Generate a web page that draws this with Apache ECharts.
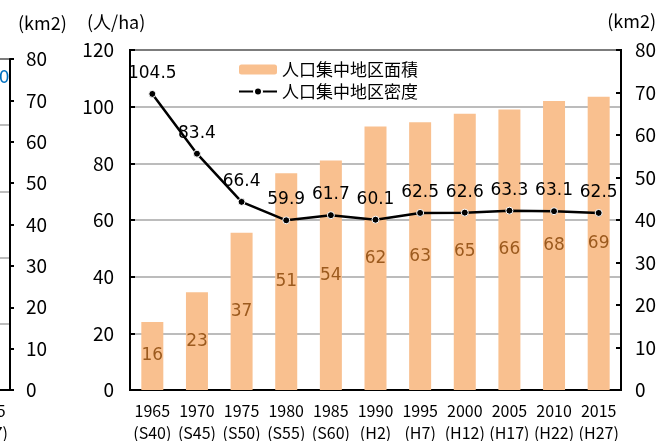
<!DOCTYPE html>
<html>
<head>
<meta charset="utf-8">
<script src="https://cdn.jsdelivr.net/npm/echarts@6/dist/echarts.min.js"></script>
<style>
  html, body { margin: 0; padding: 0; background: #fff; }
  #chart { width: 662px; height: 441px; }
</style>
</head>
<body>
<div id="chart"></div>
<script>
// Census years and their Japanese era equivalents
const years = ['1965', '1970', '1975', '1980', '1985', '1990', '1995', '2000', '2005', '2010', '2015'];
const eras = ['(S40)', '(S45)', '(S50)', '(S55)', '(S60)', '(H2)', '(H7)', '(H12)', '(H17)', '(H22)', '(H27)'];

// DID area (km2) and DID population density (persons/ha)
const didArea = [16, 23, 37, 51, 54, 62, 63, 65, 66, 68, 69];
const didDensity = [104.5, 83.4, 66.4, 59.9, 61.7, 60.1, 62.5, 62.6, 63.3, 63.1, 62.5];

const areaName = '人口集中地区面積';
const densityName = '人口集中地区密度';

const categories = years.map((y, i) => y + '\n' + eras[i]);

const tickFont = "'Noto Sans CJK JP', sans-serif";
const valueFont = "'DejaVu Sans', Verdana, sans-serif";
const cjkFont = "'Noto Sans CJK JP', sans-serif";

const chart = echarts.init(document.getElementById('chart'), null, { renderer: 'canvas' });

chart.setOption({
  animation: false,
  backgroundColor: '#fff',
  title: [
    { text: '(人/ha)', left: 82, top: 8, textStyle: { fontFamily: cjkFont, fontSize: 18, fontWeight: 'normal', color: '#000' } },
    { text: '(km2)', right: 1, top: 7, textStyle: { fontFamily: tickFont, fontSize: 18, fontWeight: 'normal', color: '#000' } },
    { text: '(km2)', left: 13, top: 9, textStyle: { fontFamily: tickFont, fontSize: 18, fontWeight: 'normal', color: '#000' } }
  ],
  legend: {
    orient: 'vertical',
    left: 233,
    top: 56,
    itemWidth: 38,
    itemHeight: 10,
    itemGap: 5,
    data: [areaName, densityName],
    textStyle: { fontFamily: cjkFont, fontSize: 17, color: '#000' }
  },
  grid: [
    { left: 130, right: 41, top: 50, bottom: 51, show: true, borderColor: '#000', borderWidth: 2, outerBoundsMode: 'none', containLabel: false },
    { left: -478, right: 652, top: 59, bottom: 51, show: true, borderColor: '#000', borderWidth: 2, outerBoundsMode: 'none', containLabel: false }
  ],
  xAxis: [
    {
      type: 'category', gridIndex: 0, data: categories,
      axisLine: { lineStyle: { color: '#000', width: 2 } },
      axisTick: { inside: true, length: 5, lineStyle: { color: '#000', width: 2 } },
      axisLabel: { color: '#000', fontFamily: tickFont, fontSize: 16, lineHeight: 22, margin: 10, interval: 0 }
    },
    {
      type: 'category', gridIndex: 1, data: categories,
      axisLine: { lineStyle: { color: '#000', width: 2 } },
      axisTick: { show: false },
      axisLabel: { color: '#000', fontFamily: tickFont, fontSize: 16, lineHeight: 22, margin: 10, interval: 0 }
    }
  ],
  yAxis: [
    {
      type: 'value', gridIndex: 0, position: 'left', min: 0, max: 120, interval: 20,
      axisLine: { show: true, lineStyle: { color: '#000', width: 2 } },
      axisTick: { show: true, inside: true, length: 5, lineStyle: { color: '#000', width: 2 } },
      splitLine: { lineStyle: { color: '#a6a6a6', width: 1.5 } },
      axisLabel: { color: '#000', fontFamily: tickFont, fontSize: 19, margin: 16 }
    },
    {
      type: 'value', gridIndex: 0, position: 'right', min: 0, max: 80, interval: 10,
      axisLine: { show: true, lineStyle: { color: '#000', width: 2 } },
      axisTick: { show: true, inside: true, length: 5, lineStyle: { color: '#000', width: 2 } },
      splitLine: { show: false },
      axisLabel: { color: '#000', fontFamily: tickFont, fontSize: 19, margin: 14 }
    },
    {
      type: 'value', gridIndex: 1, position: 'left', min: 0, max: 5, interval: 1,
      axisLine: { show: false }, axisTick: { show: false }, axisLabel: { show: false },
      splitLine: { lineStyle: { color: '#a6a6a6', width: 1.5 } }
    },
    {
      type: 'value', gridIndex: 1, position: 'right', min: 0, max: 80, interval: 10,
      axisLine: { show: true, lineStyle: { color: '#000', width: 2 } },
      axisTick: { show: true, inside: false, length: 4, lineStyle: { color: '#000', width: 2 } },
      splitLine: { show: false },
      axisLabel: { color: '#000', fontFamily: tickFont, fontSize: 19, margin: 16 }
    }
  ],
  graphic: [
    { type: 'text', left: -12, top: 70, style: { text: '70', fill: '#0070c0', font: "17px 'DejaVu Sans'" } }
  ],
  series: [
    {
      name: areaName,
      type: 'bar',
      xAxisIndex: 0,
      yAxisIndex: 1,
      data: didArea,
      barWidth: 22,
      itemStyle: { color: '#f9c08f' },
      label: {
        show: true, position: 'inside', color: '#9c5a1e',
        fontFamily: valueFont, fontSize: 17
      },
      z: 2
    },
    {
      name: densityName,
      type: 'line',
      xAxisIndex: 0,
      yAxisIndex: 0,
      data: didDensity,
      symbol: 'circle',
      symbolSize: 7,
      lineStyle: { color: '#000', width: 2.5 },
      itemStyle: { color: '#000', borderColor: '#fff', borderWidth: 1 },
      label: {
        show: true, position: 'top', distance: 8, color: '#000',
        fontFamily: valueFont, fontSize: 17,
        formatter: p => p.value.toFixed(1)
      },
      z: 3
    }
  ]
});
</script>
</body>
</html>
